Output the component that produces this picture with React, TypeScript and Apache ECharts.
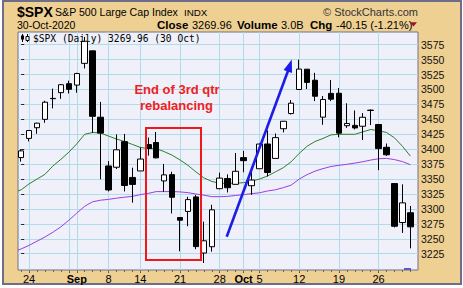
import React, { useEffect, useRef } from 'react';
import * as echarts from 'echarts';

// Trading days shown (Aug 21 – Oct 30, 2020)
const dates = [
  'Aug 21', 'Aug 24', 'Aug 25', 'Aug 26', 'Aug 27', 'Aug 28', 'Aug 31', 'Sep 1', 'Sep 2', 'Sep 3',
  'Sep 4', 'Sep 8', 'Sep 9', 'Sep 10', 'Sep 11', 'Sep 14', 'Sep 15', 'Sep 16', 'Sep 17', 'Sep 18',
  'Sep 21', 'Sep 22', 'Sep 23', 'Sep 24', 'Sep 25', 'Sep 28', 'Sep 29', 'Sep 30', 'Oct 1', 'Oct 2',
  'Oct 5', 'Oct 6', 'Oct 7', 'Oct 8', 'Oct 9', 'Oct 12', 'Oct 13', 'Oct 14', 'Oct 15', 'Oct 16',
  'Oct 19', 'Oct 20', 'Oct 21', 'Oct 22', 'Oct 23', 'Oct 26', 'Oct 27', 'Oct 28', 'Oct 29', 'Oct 30',
];
const opens = [
  3386.0, 3418.1, 3436.0, 3450.0, 3485.1, 3494.7, 3509.7, 3507.4, 3543.8, 3564.7,
  3453.6, 3371.9, 3369.8, 3412.6, 3352.7, 3363.6, 3407.7, 3411.2, 3346.9, 3357.4,
  3285.6, 3295.8, 3320.1, 3226.1, 3236.7, 3333.9, 3350.9, 3341.2, 3385.9, 3338.9,
  3367.3, 3408.7, 3384.6, 3434.3, 3459.7, 3500.0, 3534.0, 3515.5, 3453.7, 3493.5,
  3493.7, 3439.4, 3439.9, 3438.5, 3464.9, 3441.4, 3403.2, 3342.5, 3277.2, 3293.6,
];
const closes = [
  3397.2, 3431.3, 3443.6, 3478.7, 3484.6, 3508.0, 3500.3, 3526.7, 3580.8, 3455.1,
  3427.0, 3331.8, 3399.0, 3339.2, 3341.0, 3383.5, 3401.2, 3385.5, 3357.0, 3319.5,
  3281.1, 3315.6, 3236.9, 3246.6, 3298.5, 3351.6, 3335.5, 3363.0, 3380.8, 3348.4,
  3408.6, 3361.0, 3419.4, 3446.8, 3477.1, 3534.2, 3511.9, 3488.7, 3483.3, 3483.8,
  3426.9, 3443.1, 3435.6, 3453.5, 3465.4, 3401.0, 3390.7, 3271.0, 3310.1, 3270.0,
];
const lows = [
  3379.3, 3413.1, 3425.8, 3444.2, 3468.4, 3484.3, 3493.3, 3494.6, 3535.2, 3427.4,
  3349.6, 3329.3, 3366.8, 3329.3, 3310.5, 3363.6, 3389.3, 3384.5, 3328.8, 3292.4,
  3229.1, 3271.0, 3232.6, 3209.5, 3228.4, 3332.9, 3327.5, 3340.5, 3361.4, 3323.7,
  3367.3, 3354.5, 3384.6, 3428.2, 3458.1, 3499.6, 3500.9, 3480.6, 3440.9, 3480.5,
  3419.9, 3435.7, 3433.1, 3415.3, 3440.5, 3364.9, 3388.7, 3268.9, 3259.8, 3233.9,
];
const highs = [
  3400.0, 3432.1, 3444.2, 3481.1, 3501.4, 3509.2, 3514.8, 3528.0, 3588.1, 3564.9,
  3479.2, 3380.0, 3424.8, 3425.6, 3369.0, 3402.9, 3419.5, 3428.9, 3375.2, 3362.3,
  3285.6, 3320.3, 3323.4, 3278.7, 3306.9, 3360.7, 3357.9, 3393.6, 3397.2, 3369.1,
  3409.6, 3431.6, 3426.3, 3447.3, 3482.3, 3549.9, 3534.0, 3527.9, 3489.1, 3515.8,
  3502.4, 3476.9, 3464.9, 3460.5, 3466.5, 3441.4, 3409.5, 3342.5, 3341.1, 3304.9,
];
// Green moving average, first value at the plot's left edge
const greenMA = [
  3330, 3332, 3342, 3350, 3358, 3372, 3383, 3395, 3409, 3425, 3428,
  3427, 3422, 3417, 3413, 3408, 3403, 3401, 3401, 3396, 3390,
  3382, 3373, 3362, 3352, 3346, 3343, 3343, 3343, 3344, 3346.5,
  3350, 3355, 3362, 3369, 3379, 3393, 3405, 3413, 3418, 3424,
  3425, 3425, 3425, 3429, 3433, 3431, 3428, 3419, 3405, 3388.5,
];
// Purple moving average, first value at the plot's left edge
const purpleMA = [
  3231, 3233, 3239, 3246, 3253, 3261, 3270, 3281, 3293, 3304.5, 3312,
  3314.6, 3316, 3318, 3319.6, 3321, 3324, 3326, 3329, 3329, 3329,
  3328.5, 3327.2, 3325, 3323, 3320.5, 3320.5, 3321, 3322.5, 3324, 3325.5,
  3327, 3330, 3332, 3335.6, 3339.8, 3350, 3357.4, 3363.3, 3367.5, 3371,
  3373, 3374.7, 3376.7, 3379, 3381.8, 3384, 3384.6, 3382.6, 3379.3, 3374,
];
const yTicks = [3225, 3250, 3275, 3300, 3325, 3350, 3375, 3400, 3425, 3450, 3475, 3500, 3525, 3550, 3575];
const xLabelIdx = [1, 7, 11, 15, 20, 25, 28, 30, 35, 40, 45];
const xLabels = ['24', 'Sep', '8', '14', '21', '28', 'Oct', '5', '12', '19', '26'];
const xGridIdx = [1, 6, 7, 11, 15, 20, 25, 28, 30, 35, 40, 45];
const boldLabels = ['Sep', 'Oct'];

const X_MIN = -0.4;
const X_MAX = 49.96;
const Y_MIN = 3197.7;
const Y_MAX = 3596.3;

const FF = '"Liberation Sans", Arial, sans-serif';

export default function App() {
  const ref = useRef<HTMLDivElement>(null);

  useEffect(() => {
    if (!ref.current) return;
    const chart = echarts.init(ref.current, null, { renderer: 'svg' });

    const candleData = dates.map((_, i) => [i, opens[i], closes[i], lows[i], highs[i]]);
    const greenData = greenMA.map((v, i) => [i === 0 ? X_MIN : i - 1, v]);
    const purpleData = purpleMA.map((v, i) => [i === 0 ? X_MIN : i - 1, v]);
    const dayIdx = dates.map((_, i) => i);

    const txt = (text: string, x: number, y: number, font: string, fill = '#000', align = 'left') => ({
      type: 'text',
      x,
      y,
      z: 100,
      silent: true,
      style: { text, font, fill, align, verticalAlign: 'middle', textAlign: align, textVerticalAlign: 'middle' },
    });

    chart.setOption({
      animation: false,
      grid: {
        left: 18,
        top: 32,
        width: 400,
        height: 238,
        show: true,
        backgroundColor: '#eff0f9',
        borderColor: '#70708a',
        borderWidth: 1,
      },
      xAxis: [
        {
          type: 'value',
          min: X_MIN,
          max: X_MAX,
          position: 'bottom',
          axisLine: { show: false },
          axisTick: { show: true, customValues: xGridIdx, length: 3, lineStyle: { color: '#555' } },
          splitLine: { show: true, lineStyle: { color: '#b0dbe8', width: 1 } },
          axisLabel: {
            customValues: xLabelIdx,
            margin: 3,
            color: '#000',
            fontSize: 11,
            fontFamily: FF,
            formatter: (v: number) => {
              const k = xLabelIdx.indexOf(Math.round(v));
              const s = k >= 0 ? xLabels[k] : '';
              return boldLabels.includes(s) ? `{b|${s}}` : s;
            },
            rich: { b: { fontWeight: 'bold', fontSize: 11, fontFamily: FF, color: '#000' } },
          },
        },
        {
          type: 'value',
          min: X_MIN,
          max: X_MAX,
          position: 'bottom',
          axisLine: { show: false },
          axisTick: { show: true, customValues: dayIdx, length: 2, lineStyle: { color: '#666' } },
          splitLine: { show: false },
          axisLabel: { show: false },
        },
      ],
      yAxis: {
        type: 'value',
        position: 'right',
        min: Y_MIN,
        max: Y_MAX,
        axisLine: { show: false },
        axisTick: { show: true, customValues: yTicks, length: 3, lineStyle: { color: '#222' } },
        splitLine: { show: true, lineStyle: { color: '#b0dbe8', width: 1 } },
        axisLabel: {
          customValues: yTicks,
          margin: 3,
          color: '#111',
          fontSize: 10.5,
          fontFamily: FF,
          formatter: (v: number) => String(Math.round(v)),
        },
      },
      series: [
        {
          type: 'line',
          data: purpleData,
          xAxisIndex: 0,
          symbol: 'none',
          lineStyle: { color: '#9a3ee0', width: 1 },
          z: 1,
        },
        {
          type: 'line',
          data: greenData,
          xAxisIndex: 0,
          symbol: 'none',
          lineStyle: { color: '#2c7f2c', width: 1 },
          z: 1,
        },
        {
          type: 'candlestick',
          data: candleData,
          xAxisIndex: 0,
          barWidth: 6,
          z: 3,
          itemStyle: {
            color: '#ffffff',
            color0: '#000000',
            borderColor: '#000000',
            borderColor0: '#000000',
            borderWidth: 1,
          },
        },
      ],
      graphic: [
        txt('$SPX', 17, 12, `bold 14px ${FF}`),
        txt('S&P 500 Large Cap Index', 55, 12, `10.6px ${FF}`),
        txt('INDX', 184, 12.5, `9.8px ${FF}`),
        txt('© StockCharts.com', 418, 12, `11px ${FF}`, '#333', 'right'),
        txt('30-Oct-2020', 17, 24.5, `10.5px ${FF}`),
        txt('Close', 157, 24.5, `bold 11.5px ${FF}`),
        txt('3269.96', 192, 24.5, `11px ${FF}`),
        txt('Volume', 237, 24.5, `bold 11.5px ${FF}`),
        txt('3.0B', 281, 24.5, `11px ${FF}`),
        txt('Chg', 310, 24.5, `bold 11.5px ${FF}`),
        txt('-40.15 (-1.21%)', 336, 24.5, `11px ${FF}`),
        {
          type: 'polygon',
          z: 100,
          shape: { points: [[410, 22.3], [417, 22.3], [413.5, 26.5]] },
          style: { fill: '#a0102c' },
        },
        txt('$SPX (Daily) 3269.96 (30 Oct)', 33, 38, `9.6px "DejaVu Sans Mono", monospace`),
        // small candle icon
        { type: 'line', z: 100, shape: { x1: 22.5, y1: 34, x2: 22.5, y2: 42 }, style: { stroke: '#000', lineWidth: 1 } },
        { type: 'rect', z: 101, shape: { x: 21, y: 35.5, width: 3, height: 4 }, style: { fill: '#000' } },
        { type: 'line', z: 100, shape: { x1: 27.5, y1: 34, x2: 27.5, y2: 42 }, style: { stroke: '#000', lineWidth: 1 } },
        { type: 'rect', z: 101, shape: { x: 26, y: 36.5, width: 3, height: 4 }, style: { fill: '#fff', stroke: '#000', lineWidth: 1 } },
        // annotation
        {
          type: 'rect',
          z: 90,
          shape: { x: 146, y: 128, width: 55, height: 132 },
          style: { fill: 'none', stroke: '#f01818', lineWidth: 2 },
        },
        txt('End of 3rd qtr', 177, 89.5, `bold 13px ${FF}`, '#f02020', 'center'),
        txt('rebalancing', 176.5, 105, `bold 13px ${FF}`, '#f02020', 'center'),
        {
          type: 'line',
          z: 90,
          shape: { x1: 226.7, y1: 236.7, x2: 288.5, y2: 69.5 },
          style: { stroke: '#1c1ce6', lineWidth: 2.6 },
        },
        {
          type: 'polygon',
          z: 90,
          shape: { points: [[291.8, 59.5], [292, 73], [283.6, 69.9]] },
          style: { fill: '#1c1ce6' },
        },
        {
          type: 'rect',
          z: 90,
          shape: { x: 404, y: 268, width: 7, height: 2 },
          style: { fill: '#5a5ac8' },
        },
      ],
    });

    return () => chart.dispose();
  }, []);

  return (
    <div style={{ position: 'absolute', left: 0, top: 0, width: 463, height: 288, background: '#ffffff' }}>
      <div
        style={{
          position: 'absolute',
          left: 2,
          top: 0,
          width: 460,
          height: 285,
          boxSizing: 'border-box',
          border: '2px solid #6e6e8a',
          background: '#efd093',
        }}
      />
      <div ref={ref} style={{ position: 'absolute', left: 0, top: 0, width: 463, height: 288 }} />
    </div>
  );
}
